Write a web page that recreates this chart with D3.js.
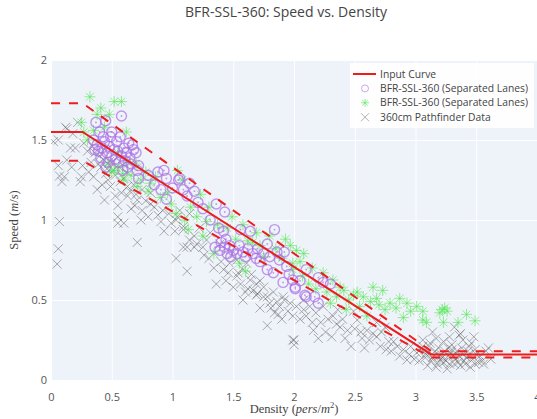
<!DOCTYPE html>
<html><head><meta charset="utf-8">
<script src="https://d3js.org/d3.v7.min.js"></script>
<style>body{margin:0;background:#fff;overflow:hidden}</style>
</head><body>
<svg id="c" width="537" height="419"></svg>
<script>
const title = "BFR-SSL-360: Speed vs. Density";
const xTicks = [0, 0.5, 1, 1.5, 2, 2.5, 3, 3.5, 4];
const yTicks = [0, 0.5, 1, 1.5, 2];
const legendNames = ["Input Curve", "BFR-SSL-360 (Separated Lanes)", "BFR-SSL-360 (Separated Lanes)", "360cm Pathfinder Data"];

const curveX = [0, 0.26, 3.13, 4.3];
const curveY = [1.55, 1.55, 0.16, 0.16];
const upperY = [1.73, 1.73, 0.18, 0.18];
const lowerY = [1.37, 1.37, 0.14, 0.14];

const purplePts = [
[0.37,1.61],[0.45,1.62],[0.58,1.65],[0.40,1.55],[0.49,1.52],[0.64,1.48],[0.70,1.42],[0.72,1.34],[0.71,1.31],[0.72,1.26],
[0.35,1.50],[0.38,1.47],[0.42,1.45],[0.44,1.49],[0.46,1.42],[0.48,1.46],[0.50,1.40],[0.52,1.44],[0.53,1.38],[0.55,1.43],
[0.56,1.36],[0.58,1.40],[0.60,1.45],[0.61,1.37],[0.62,1.42],[0.65,1.39],[0.66,1.35],[0.68,1.44],[0.43,1.52],[0.39,1.43],
[0.47,1.36],[0.54,1.49],[0.57,1.52],[0.63,1.33],[0.41,1.39],[0.50,1.55],[0.36,1.44],[0.59,1.31],[0.67,1.47],[0.45,1.33],
[0.88,1.30],[0.93,1.31],[0.95,1.26],[0.905,1.19],[0.95,1.13],[1.05,1.25],[1.09,1.19],[1.06,1.26],[1.14,1.23],[1.21,1.11],
[1.36,1.10],[1.43,1.05],[1.31,1.00],[1.38,0.95],[1.42,0.93],[1.39,0.81],[1.45,0.79],[1.53,0.79],[1.56,0.94],[1.64,0.93],
[1.60,0.77],[1.69,0.76],[1.75,0.79],[1.84,0.94],[1.78,0.85],[1.86,0.80],[1.88,0.75],[1.78,0.69],[1.83,0.67],[1.94,0.71],
[1.91,0.61],[2.01,0.58],[2.10,0.52],[2.10,0.69],[2.20,0.64],[2.30,0.60],[2.24,0.61],[2.01,0.57],[2.09,0.53],[2.17,0.52],
[2.20,0.48],[1.99,0.625],[0.80,1.28],[0.85,1.22],[1.00,1.20],[1.12,1.15],[1.18,1.18],[1.25,1.07],[1.40,0.86],[1.43,0.83],
[1.47,0.84],[1.50,0.81],[1.55,0.84],[1.58,0.80],[1.62,0.82],[1.66,0.79],[1.70,0.82],[1.72,0.74],[1.80,0.77],[1.92,0.80],
[1.96,0.66],[2.05,0.62],[1.35,0.83],[1.48,0.77],[1.44,0.88]
];

const greenPts = [
[0.32,1.77],[0.52,1.74],[0.58,1.74],[0.41,1.70],[0.25,1.61],[0.27,1.55],[0.48,1.66],[0.63,1.36],[0.52,1.31],[0.59,1.29],
[0.82,1.23],[0.71,1.21],[0.96,1.17],[1.04,1.31],[1.08,1.25],[0.55,1.42],[0.30,1.50],[0.35,1.56],[0.38,1.66],[0.44,1.58],
[0.47,1.35],[0.50,1.30],[0.56,1.33],[0.62,1.55],[0.66,1.28],[0.70,1.35],[0.74,1.25],[0.78,1.30],[0.80,1.18],[0.86,1.27],
[0.90,1.14],[0.99,1.10],[0.60,1.25],[1.23,1.16],[1.03,1.04],[1.13,0.94],[1.28,0.99],[1.34,0.79],[1.49,1.02],[1.69,0.92],
[1.80,0.90],[1.66,0.86],[1.97,0.84],[2.02,0.81],[1.99,0.69],[2.07,0.65],[1.75,0.77],[1.15,1.08],[1.20,1.02],[1.30,1.08],
[1.37,0.97],[1.45,0.95],[1.52,0.88],[1.58,0.97],[1.62,0.87],[1.72,0.84],[1.85,0.82],[1.90,0.76],[1.93,0.88],[2.05,0.74],
[1.25,0.90],[1.55,0.73],[1.60,0.68],[1.10,1.00],[2.08,0.79],[1.99,0.73],[2.24,0.67],[2.32,0.625],[2.41,0.56],[2.49,0.53],
[2.65,0.58],[2.73,0.56],[2.68,0.51],[2.79,0.48],[2.93,0.48],[3.01,0.46],[2.90,0.39],[3.06,0.375],[2.54,0.46],[2.60,0.40],
[2.43,0.44],[2.63,0.49],[2.12,0.60],[2.18,0.57],[2.27,0.55],[2.35,0.52],[2.38,0.58],[2.45,0.50],[2.52,0.55],[2.57,0.52],
[2.70,0.47],[2.75,0.44],[2.84,0.45],[2.87,0.51],[2.96,0.43],[2.15,0.70],[2.30,0.48],[3.06,0.43],[3.09,0.36],[3.22,0.44],
[3.26,0.43],[3.23,0.36],[3.35,0.36],[3.42,0.41],[3.49,0.37],[3.24,0.45],[3.20,0.42]
];

const grayPts = [
[0.02,1.49],[0.06,1.50],[0.13,1.57],[0.18,1.54],[0.06,1.34],[0.13,1.375],[0.17,1.33],[0.07,1.275],[0.09,1.24],[0.24,1.24],
[0.20,1.45],[0.07,0.99],[0.06,0.82],[0.05,0.725],[0.22,1.61],[0.12,1.58],[0.16,1.45],[0.27,1.48],[0.30,1.43],[0.26,1.34],
[0.11,1.27],[0.25,1.27],[0.35,1.27],[0.45,1.29],[0.49,1.21],[0.38,1.19],[0.44,1.125],[0.55,1.09],[0.63,1.15],[0.71,1.125],
[0.66,1.07],[0.75,1.06],[0.82,1.10],[0.88,1.03],[0.55,1.02],[0.33,1.36],[0.40,1.40],[0.41,1.33],[0.48,1.365],[0.55,1.34],
[0.51,1.31],[0.60,1.26],[0.68,1.22],[0.75,1.19],[0.82,1.17],[0.63,1.21],[0.58,1.17],[0.53,1.15],[0.905,0.99],[0.99,0.98],
[1.09,0.96],[1.04,1.02],[0.74,1.00],[0.55,0.98],[0.60,0.98],[0.71,0.86],[0.36,1.42],[0.39,1.35],[0.43,1.38],[0.46,1.32],
[0.50,1.36],[0.53,1.28],[0.57,1.24],[0.62,1.30],[0.65,1.18],[0.70,1.16],[0.78,1.12],[0.85,1.08],[0.92,1.06],[0.97,1.04],
[0.80,1.02],[0.69,1.09],[0.47,1.25],[0.42,1.22],[0.31,1.30],[0.34,1.46],[0.44,1.44],
[1.03,0.76],[1.12,0.68],[1.36,0.60],[1.58,0.50],[1.78,0.34],[2.00,0.25],[2.00,0.22],[0.93,0.93],[1.09,0.83],[1.18,0.83],
[1.34,0.70],[1.50,0.58],[1.54,0.67],[1.65,0.66],[1.70,0.54],[1.75,0.52],[1.81,0.45],[1.87,0.41],[1.92,0.50],[1.03,1.00],
[1.02,0.93],[1.09,0.94],[1.14,0.875],[1.20,0.85],[1.12,0.83],[1.25,0.83],[1.42,0.69],[1.46,0.67],[1.53,0.65],[1.58,0.69],
[1.64,0.625],[1.69,0.60],[1.665,0.56],[1.75,0.58],[1.69,0.53],[1.78,0.52],[1.80,0.48],[1.86,0.49],[1.91,0.52],[1.97,0.48],
[2.02,0.46],[2.08,0.50],[1.72,0.45],[1.06,1.06],[1.14,1.04],[1.31,0.92],[1.28,0.875],[1.39,0.85],[1.49,0.79],[1.53,0.75],
[1.61,0.73],[1.47,0.73],[1.22,0.95],[1.18,0.90],[1.26,0.78],[1.30,0.76],[1.40,0.74],[1.44,0.62],[1.56,0.60],[1.62,0.57],
[1.72,0.62],[1.83,0.55],[1.88,0.46],[1.95,0.43],[1.99,0.40],[2.05,0.38],[1.90,0.38],[1.84,0.42],[1.60,0.55],
[1.99,0.25],[2.16,0.31],[2.31,0.27],[2.47,0.21],[2.56,0.26],[2.38,0.33],[2.60,0.31],[2.71,0.21],[2.76,0.19],[2.87,0.15],
[2.93,0.125],[3.01,0.17],[2.13,0.46],[2.24,0.46],[2.32,0.40],[2.08,0.44],[2.49,0.43],[2.52,0.375],[2.65,0.29],[2.82,0.24],
[2.85,0.21],[2.96,0.21],[3.06,0.21],[3.09,0.16],[2.10,0.40],[2.18,0.42],[2.22,0.36],[2.28,0.38],[2.35,0.35],[2.40,0.38],
[2.44,0.31],[2.50,0.32],[2.55,0.30],[2.62,0.25],[2.68,0.27],[2.72,0.30],[2.78,0.24],[2.80,0.18],[2.90,0.19],[2.95,0.16],
[2.99,0.13],[3.03,0.12],[2.58,0.20],[2.42,0.26],[2.26,0.30],[2.15,0.36],[2.36,0.44],[2.68,0.36],[2.75,0.33],[2.20,0.26],
[3.14,0.30],[3.32,0.33],[3.37,0.29],[3.60,0.20],[3.06,0.25],[3.12,0.23],[3.17,0.26],[3.23,0.24],[3.28,0.27],[3.39,0.25],
[3.44,0.21],[3.49,0.19],[3.53,0.15],[3.56,0.10],[3.45,0.08],[3.37,0.09],[3.28,0.10],[3.20,0.125],[3.15,0.15],[3.09,0.17],
[3.31,0.15],[3.39,0.16],[3.24,0.18],[3.34,0.18],[3.19,0.20],[3.42,0.14],[3.11,0.21],[3.26,0.07],[3.36,0.28],[3.13,0.12],
[3.18,0.10],[3.22,0.14],[3.25,0.12],[3.29,0.17],[3.33,0.13],[3.35,0.11],[3.40,0.12],[3.43,0.18],[3.47,0.13],[3.50,0.16],
[3.52,0.11],[3.16,0.18],[3.21,0.16],[3.27,0.20],[3.30,0.22],[3.46,0.23],[3.58,0.18],[3.08,0.14],[3.04,0.19],[3.10,0.09],
[3.41,0.10],[3.55,0.12],[3.38,0.20],[3.48,0.27],[3.62,0.13],[3.14,0.14],[3.19,0.15],[3.23,0.11],[3.27,0.15],[3.32,0.10],
[3.36,0.15],[3.44,0.16],[3.49,0.10],[3.17,0.08],[3.30,0.19]
];

const svg = d3.select("#c");
const L = 51, R = 537, T = 60, B = 380;
const x = d3.scaleLinear().domain([0, 4]).range([L, R]);
const y = d3.scaleLinear().domain([0, 2]).range([B, T]);

svg.append("rect").attr("x", 0).attr("y", 0).attr("width", 537).attr("height", 419).attr("fill", "#fff");
svg.append("rect").attr("x", L).attr("y", T).attr("width", R - L).attr("height", B - T).attr("fill", "#eef2f9");

// grid
const xAxis = d3.axisBottom(x).tickValues(xTicks).tickSize(-(B - T)).tickFormat(d => String(d));
const yAxis = d3.axisLeft(y).tickValues(yTicks).tickSize(-(R - L)).tickFormat(d => String(d));
const gx = svg.append("g").attr("transform", `translate(0,${B})`).call(xAxis);
const gy = svg.append("g").attr("transform", `translate(${L},0)`).call(yAxis);
[gx, gy].forEach(g => {
  g.select(".domain").remove();
  g.selectAll(".tick line").attr("stroke", "#fff").attr("stroke-width", 1);
  g.selectAll(".tick text").attr("fill", "#555").style("font-family", "'Open Sans', sans-serif").style("font-size", "11px");
});
gx.selectAll(".tick text").attr("dy", null).attr("y", 11).attr("dominant-baseline", "hanging");
gy.selectAll(".tick text").attr("x", -4).attr("dy", "0.35em");

const defs = svg.append("defs");
defs.append("clipPath").attr("id", "clip").append("rect").attr("x", L).attr("y", T).attr("width", R - L).attr("height", B - T);
const plot = svg.append("g").attr("clip-path", "url(#clip)");

// markers
const gGray = plot.append("g");
grayPts.forEach(p => {
  const cx = x(p[0]), cy = y(p[1]), s = 4.5;
  gGray.append("path").attr("d", `M${cx-s},${cy-s}L${cx+s},${cy+s}M${cx-s},${cy+s}L${cx+s},${cy-s}`)
    .attr("stroke", "#555").attr("stroke-width", 1).attr("fill", "none").attr("opacity", 0.48);
});
const gGreen = plot.append("g");
function asterisk(cx, cy, s) {
  const d = s * 0.7071;
  return `M${cx-s},${cy}L${cx+s},${cy}M${cx},${cy-s}L${cx},${cy+s}M${cx-d},${cy-d}L${cx+d},${cy+d}M${cx-d},${cy+d}L${cx+d},${cy-d}`;
}
greenPts.forEach(p => {
  gGreen.append("path").attr("d", asterisk(x(p[0]), y(p[1]), 5.5))
    .attr("stroke", "#4ee84e").attr("stroke-width", 1).attr("fill", "none").attr("opacity", 0.6);
});
const gPurple = plot.append("g");
purplePts.forEach(p => {
  const cx = x(p[0]), cy = y(p[1]);
  gPurple.append("circle").attr("cx", cx).attr("cy", cy).attr("r", 5)
    .attr("stroke", "#a970e6").attr("stroke-width", 1.4).attr("fill", "none").attr("opacity", 0.7);
  gPurple.append("circle").attr("cx", cx).attr("cy", cy).attr("r", 0.9).attr("fill", "#a970e6").attr("opacity", 0.7);
});

// curves
const line = d3.line().x(d => x(d[0])).y(d => y(d[1]));
const mk = ys => curveX.map((v, i) => [v, ys[i]]);
plot.append("path").attr("d", line(mk(upperY))).attr("fill", "none").attr("stroke", "#ee1c1c").attr("stroke-width", 2).attr("stroke-dasharray", "9,9");
plot.append("path").attr("d", line(mk(lowerY))).attr("fill", "none").attr("stroke", "#ee1c1c").attr("stroke-width", 2).attr("stroke-dasharray", "9,9");
plot.append("path").attr("d", line(mk(curveY))).attr("fill", "none").attr("stroke", "#ee1c1c").attr("stroke-width", 2);

// title
svg.append("text").attr("x", 286).attr("y", 17).attr("text-anchor", "middle")
  .style("font-family", "'Open Sans', sans-serif").style("font-size", "14px").attr("fill", "#444").text(title);

// axis titles
const serif = "'Liberation Serif', 'DejaVu Serif', serif";
const xt = svg.append("text").attr("x", 294).attr("y", 413).attr("text-anchor", "middle")
  .style("font-family", serif).style("font-size", "12.5px").attr("fill", "#444");
xt.append("tspan").text("Density (");
xt.append("tspan").style("font-style", "italic").text("pers");
xt.append("tspan").text("/");
xt.append("tspan").style("font-style", "italic").text("m");
xt.append("tspan").attr("dy", -5).style("font-size", "8.5px").text("2");
xt.append("tspan").attr("dy", 5).text(")");

const yt = svg.append("text").attr("transform", "translate(18,220) rotate(-90)").attr("text-anchor", "middle")
  .style("font-family", serif).style("font-size", "12.5px").attr("fill", "#444");
yt.append("tspan").text("Speed (");
yt.append("tspan").style("font-style", "italic").text("m");
yt.append("tspan").text("/");
yt.append("tspan").style("font-style", "italic").text("s");
yt.append("tspan").text(")");

// legend
const lg = svg.append("g");
lg.append("rect").attr("x", 350).attr("y", 63).attr("width", 184).attr("height", 65).attr("fill", "#fff").attr("opacity", 0.92);
const rows = [74, 88.4, 102.8, 117.2];
legendNames.forEach((n, i) => {
  lg.append("text").attr("x", 380).attr("y", rows[i]).attr("dy", "0.35em")
    .style("font-family", "'Open Sans', sans-serif").style("font-size", "10.3px").attr("fill", "#444").text(n);
});
lg.append("line").attr("x1", 353).attr("x2", 376).attr("y1", rows[0]).attr("y2", rows[0]).attr("stroke", "#ee1c1c").attr("stroke-width", 2);
lg.append("circle").attr("cx", 365).attr("cy", rows[1]).attr("r", 3.5).attr("fill", "none").attr("stroke", "#a970e6").attr("stroke-width", 1).attr("opacity", 0.6);
lg.append("path").attr("d", asterisk(365, rows[2], 4)).attr("stroke", "#4ee84e").attr("stroke-width", 1).attr("fill", "none").attr("opacity", 0.6);
lg.append("path").attr("d", `M361,${rows[3]-4}L369,${rows[3]+4}M361,${rows[3]+4}L369,${rows[3]-4}`).attr("stroke", "#555").attr("stroke-width", 1).attr("opacity", 0.45);
</script>
</body></html>
